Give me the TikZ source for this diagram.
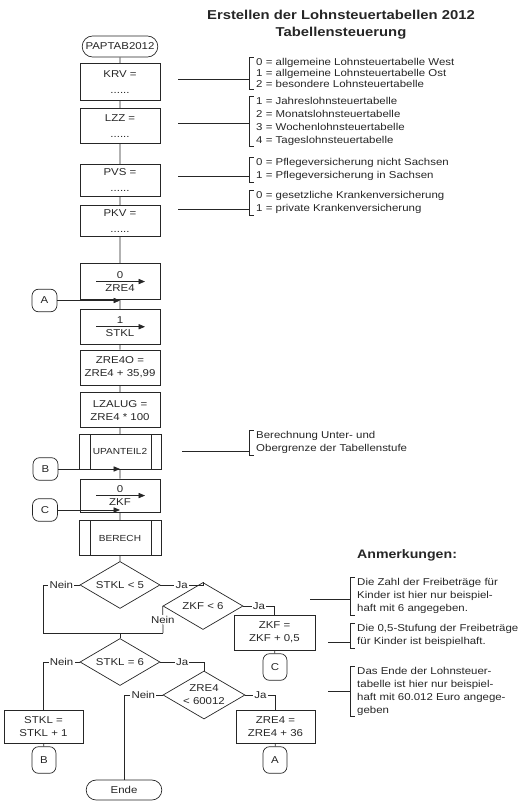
\documentclass[tikz,border=0pt]{standalone}
\usepackage{fontspec}
\setmainfont{Liberation Sans}[FakeStretch=1.15]
\usepackage{tikz}
\usetikzlibrary{arrows.meta, positioning, shapes.geometric, shapes.misc}
\colorlet{ink}{black!85}

\begin{document}
\begin{tikzpicture}[
  x=0.03cm, y=-0.03cm, color=ink,
  font=\fontsize{8.5}{11}\selectfont,
  box/.style={draw, line width=0.6pt, minimum width=2.4cm, minimum height=1.05cm,
              align=center, inner sep=1pt},
  subr/.style={box, minimum width=2.46cm, font=\fontsize{7.5}{9}\selectfont,
              path picture={\draw[line width=0.6pt]
                ([xshift=0.33cm]path picture bounding box.north west) -- ([xshift=0.33cm]path picture bounding box.south west)
                ([xshift=-0.3cm]path picture bounding box.north east) -- ([xshift=-0.3cm]path picture bounding box.south east);}},
  term/.style={draw, line width=0.6pt, rounded rectangle, minimum width=2.34cm, minimum height=0.63cm, inner sep=1pt},
  conn/.style={draw, line width=0.6pt, rounded corners=0.2cm, minimum width=0.75cm, minimum height=0.68cm, inner sep=0pt},
  conn2/.style={conn, minimum width=0.72cm, minimum height=0.8cm},
  dec/.style={draw, line width=0.6pt, diamond, aspect=1.7, inner sep=0pt, minimum width=2.4cm,
              minimum height=1.41cm, align=center},
  lab/.style={fill=white, inner sep=1pt},
  note/.style={anchor=north west, align=left, inner xsep=0.21cm, inner ysep=1pt},
  ln/.style={draw, line width=0.6pt},
  lead/.style={draw, line width=0.9pt},
  arr/.style={ln, -{Triangle[length=5.5pt, width=4.5pt]}}
]
  \useasboundingbox (0,0) rectangle (519,809);

  \node[font=\bfseries\fontsize{11}{14.5}\selectfont, align=center] (title) at (341,25)
    {Erstellen der Lohnsteuertabellen 2012\\Tabellensteuerung};

  % Hauptstrang
  \node[term] (start) at (120,46.5) {PAPTAB2012};
  \node[box, minimum height=1.11cm, below=0.18cm of start] (krv) {KRV =\\[3pt]......};
  \node[box, below=0.21cm of krv] (lzz) {LZZ =\\[3pt]......};
  \node[box, minimum height=0.96cm, below=0.6cm of lzz] (pvs) {PVS =\\[3pt]......};
  \node[box, minimum height=0.93cm, below=0.27cm of pvs] (pkv) {PKV =\\[3pt]......};
  \node[box, minimum height=1.08cm, below=0.78cm of pkv] (zrenull) {0\\ZRE4};
  \node[box, below=0.27cm of zrenull] (stkleins) {1\\STKL};
  \node[box, below=0.15cm of stkleins] (zreo) {ZRE4O =\\ZRE4 + 35,99};
  \node[box, below=0.21cm of zreo] (lzalug) {LZALUG =\\ZRE4 * 100};
  \node[subr, below=0.18cm of lzalug] (upanteil) {UPANTEIL2};
  \node[box, minimum height=0.99cm, below=0.27cm of upanteil] (zkfnull) {0\\ZKF};
  \node[subr, below=0.24cm of zkfnull] (berech) {BERECH};
  \node[dec, below=0.15cm of berech] (stkl5) {STKL < 5};

  \draw[ln] (start) -- (krv) -- (lzz) -- (pvs) -- (pkv) -- (zrenull) -- (stkleins) -- (zreo)
    -- (lzalug) -- (upanteil) -- (zkfnull) -- (berech) -- (stkl5);
  \foreach \n in {zrenull, stkleins, zkfnull}
    \draw[arr] ([xshift=-0.72cm]\n.center) -- ([xshift=0.75cm]\n.center);

  % Einsprungstellen
  \node[conn] (ca) at (44.5,300.5) {A};
  \node[conn] (cb) at (45.5,469) {B};
  \node[conn] (cc) at (45,510) {C};
  \draw[arr] (ca) -- (ca -| zrenull.south);
  \draw[arr] (cb) -- (cb -| zkfnull.north);
  \draw[arr] (cc) -- (cc -| berech.north);

  % Verzweigungen
  \node[dec] (zkf6) at (203,606) {ZKF < 6};
  \node[box, minimum width=2.43cm] (zkfplus) at (274.5,632.5) {ZKF =\\ZKF + 0,5};
  \node[conn2] (cc2) at (275,667) {C};
  \coordinate (mleft) at (43,633);
  \coordinate (mright) at (163,633);
  \coordinate (merge) at (120,633);
  \node[dec] (stkl6) at (120,662) {STKL = 6};
  \node[box, minimum width=2.37cm, minimum height=0.99cm] (stklplus) at (43.5,726.5) {STKL =\\STKL + 1};
  \node[conn2] (cb2) at (44,760) {B};
  \node[dec, minimum width=2.46cm, minimum height=1.44cm] (zre6) at (204,695) {ZRE4\\< 60012};
  \node[term, minimum height=0.6cm] (ende) at (124,790) {Ende};
  \node[box, minimum width=2.37cm, minimum height=0.99cm] (zreplus) at (275.5,726.5) {ZRE4 =\\ZRE4 + 36};
  \node[conn2] (ca2) at (275,760) {A};

  \draw[ln] (stkl5.west) -- node[lab]{Nein} (stkl5.west -| mleft) -- (mleft) -- (mright);
  \draw[ln] (zkf6.west) -- node[lab]{Nein} (mright);
  \draw[ln] (merge) -- (stkl6);
  \draw[ln] (stkl5.east) -- node[lab]{Ja} (stkl5.east -| zkf6.north) -- (zkf6.north);
  \draw[ln] (zkf6.east) -- node[lab]{Ja} (zkf6.east -| zkfplus.north) -- (zkfplus.north);
  \draw[ln] (zkfplus) -- (cc2);
  \draw[ln] (stkl6.west) -- node[lab]{Nein} (stkl6.west -| stklplus.north) -- (stklplus.north);
  \draw[ln] (stklplus) -- (cb2);
  \draw[ln] (stkl6.east) -- node[lab]{Ja} (stkl6.east -| zre6.north) -- (zre6.north);
  \draw[ln] (zre6.west) -- node[lab]{Nein} (zre6.west -| ende.north) -- (ende.north);
  \draw[ln] (zre6.east) -- node[lab]{Ja} (zre6.east -| zreplus.north) -- (zreplus.north);
  \draw[ln] (zreplus) -- (ca2);

  % Erlaeuterungen
  \node[note, font=\fontsize{8.5}{9.5}\selectfont] (nkrv) at (249,57)
    {0 = allgemeine Lohnsteuertabelle West\\1 = allgemeine Lohnsteuertabelle Ost\\2 = besondere Lohnsteuertabelle};
  \node[note] (nlzz) at (249,96)
    {1 = Jahreslohnsteuertabelle\\2 = Monatslohnsteuertabelle\\3 = Wochenlohnsteuertabelle\\4 = Tageslohnsteuertabelle};
  \node[note] (npvs) at (249,157) {0 = Pflegeversicherung nicht Sachsen\\1 = Pflegeversicherung in Sachsen};
  \node[note] (npkv) at (249,190) {0 = gesetzliche Krankenversicherung\\1 = private Krankenversicherung};
  \node[note] (nup) at (249,430) {Berechnung Unter- und\\Obergrenze der Tabellenstufe};

  \node[anchor=west, font=\bfseries\fontsize{10.5}{12}\selectfont] (anm) at (353,555) {Anmerkungen:};
  \node[note] (nzkf) at (350,577) {Die Zahl der Freibeträge für\\Kinder ist hier nur beispiel-\\haft mit 6 angegeben.};
  \node[note] (nstufe) at (350,623) {Die 0,5-Stufung der Freibeträge\\für Kinder ist beispielhaft.};
  \node[note] (nende) at (350,666) {Das Ende der Lohnsteuer-\\tabelle ist hier nur beispiel-\\haft mit 60.012 Euro angege-\\geben};

  \foreach \n in {nkrv, nlzz, npvs, npkv, nup, nzkf, nstufe, nende}
    \draw[ln] ([xshift=4pt]\n.north west) -- (\n.north west) -- (\n.south west) -- ([xshift=4pt]\n.south west);

  \draw[lead] ([xshift=0.54cm,yshift=0.075cm]krv.east) -- ([yshift=0.075cm]krv.east -| nkrv.west);
  \draw[lead] ([xshift=0.54cm,yshift=0.075cm]lzz.east) -- ([yshift=0.075cm]lzz.east -| nlzz.west);
  \draw[lead] ([xshift=0.54cm,yshift=0.12cm]pvs.east) -- ([yshift=0.12cm]pvs.east -| npvs.west);
  \draw[lead] ([xshift=0.54cm,yshift=0.345cm]pkv.east) -- ([yshift=0.345cm]pkv.east -| npkv.west);
  \draw[lead] ([xshift=0.63cm]upanteil.east) -- (upanteil.east -| nup.west);
  \draw[lead] ([xshift=-1.2cm,yshift=-0.1cm]nzkf.west) -- ([yshift=-0.1cm]nzkf.west);
  \draw[lead] ([xshift=-0.66cm,yshift=-0.2cm]nstufe.west) -- ([yshift=-0.2cm]nstufe.west);
  \draw[lead] ([xshift=-0.66cm]nende.west) -- (nende.west);
\end{tikzpicture}
\end{document}
